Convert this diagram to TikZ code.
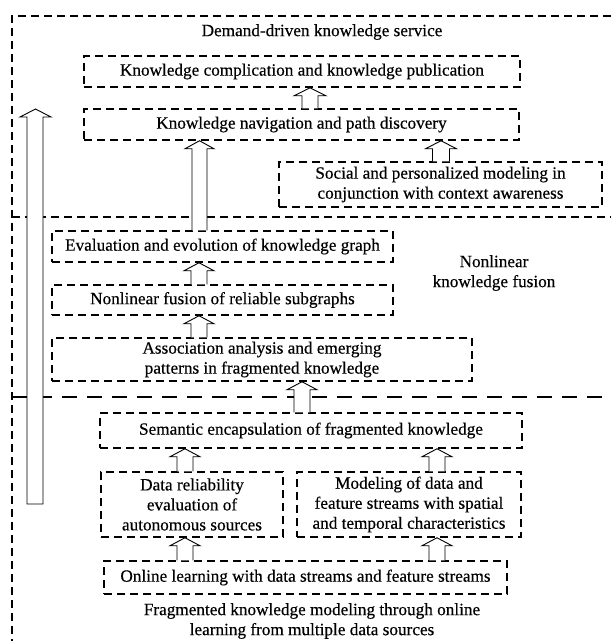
\documentclass[tikz,border=0pt]{standalone}
\usepackage{fontspec}
\setmainfont{Liberation Serif}[FakeBold=0.4]
\usetikzlibrary{calc}
\tikzset{
  txt/.style={inner sep=0pt, align=center, font=\fontsize{17.2}{20}\selectfont},
  dbox/.style={txt, draw, dash pattern=on 8pt off 5pt, line width=1.5pt},
  frameline/.style={dash pattern=on 8pt off 5pt, line width=1.5pt},
  longdash/.style={dash pattern=on 15pt off 10pt, line width=1.5pt},
  barrow/.style={draw, line width=0.9pt, fill=white, line join=miter},
}
\newcommand{\uparr}[5]{%
  \draw[barrow] let \p1=(#2.north), \p2=(#3.south) in
    (#1pt-#4pt,\y1) -- (#1pt-#4pt,\y2-8pt) -- (#1pt-#5pt,\y2-8pt) -- (#1pt,\y2)
    -- (#1pt+#5pt,\y2-8pt) -- (#1pt+#4pt,\y2-8pt) -- (#1pt+#4pt,\y1);}
\begin{document}
\begin{tikzpicture}[x=1pt,y=-1pt]
\useasboundingbox (0,0) rectangle (611,641);
% frame and region separators
\coordinate (ftr) at (611,16);
\coordinate (ftl) at (12,16);
\coordinate (fbl) at (12,641);
\draw[frameline] (ftr) -- (ftl) -- (fbl);
\draw[frameline] (12,217) -- (611,217);
\draw[longdash] (12,397) -- (611,397);
% labels
\node[txt] (l1) at (322,32) {Demand-driven knowledge service};
\node[txt] (l2) at (494,273) {Nonlinear\\knowledge fusion};
\node[txt] (l3) at (312,621) {Fragmented knowledge modeling through online\\learning from multiple data sources};
% boxes
\node[dbox, minimum width=436, minimum height=31] (b1) at (302,71.5) {Knowledge complication and knowledge publication};
\node[dbox, minimum width=435, minimum height=31] (b2) at (301.5,124.5) {Knowledge navigation and path discovery};
\node[dbox, minimum width=323, minimum height=45] (soc) at (440.5,184.5) {Social and personalized modeling in\\conjunction with context awareness};
\node[dbox, minimum width=341, minimum height=31] (eval) at (222.5,246.5) {Evaluation and evolution of knowledge graph};
\node[dbox, minimum width=341, minimum height=30] (nlf) at (222.5,300) {Nonlinear fusion of reliable subgraphs};
\node[dbox, minimum width=420, minimum height=43] (assoc) at (262,359.5) {Association analysis and emerging\\patterns in fragmented knowledge};
\node[dbox, minimum width=422, minimum height=35] (sem) at (311,430.5) {Semantic encapsulation of fragmented knowledge};
\node[dbox, minimum width=182, minimum height=65] (data) at (192,504.5) {Data reliability\\evaluation of\\autonomous sources};
\node[dbox, minimum width=224, minimum height=65] (model) at (409,504.5) {Modeling of data and\\feature streams with spatial\\and temporal characteristics};
\node[dbox, minimum width=403, minimum height=33] (online) at (305.5,577.5) {Online learning with data streams and feature streams};
% arrows
\uparr{310}{b2}{b1}{8}{16}
\uparr{441}{soc}{b2}{8.5}{15.5}
\uparr{199.5}{eval}{b2}{7.5}{14.5}
\uparr{199}{nlf}{eval}{8}{15}
\uparr{199}{assoc}{nlf}{8}{15}
\uparr{302}{sem}{assoc}{8}{15}
\uparr{185}{data}{sem}{8}{15}
\uparr{437}{model}{sem}{8}{15}
\uparr{185}{online}{data}{8}{15}
\uparr{437}{online}{model}{8}{15}
% big left arrow
\draw[barrow] (27,504) -- (27,117) -- (20,117) -- (35.5,109) -- (51,117) -- (43,117) -- (43,504) -- cycle;
\end{tikzpicture}
\end{document}
